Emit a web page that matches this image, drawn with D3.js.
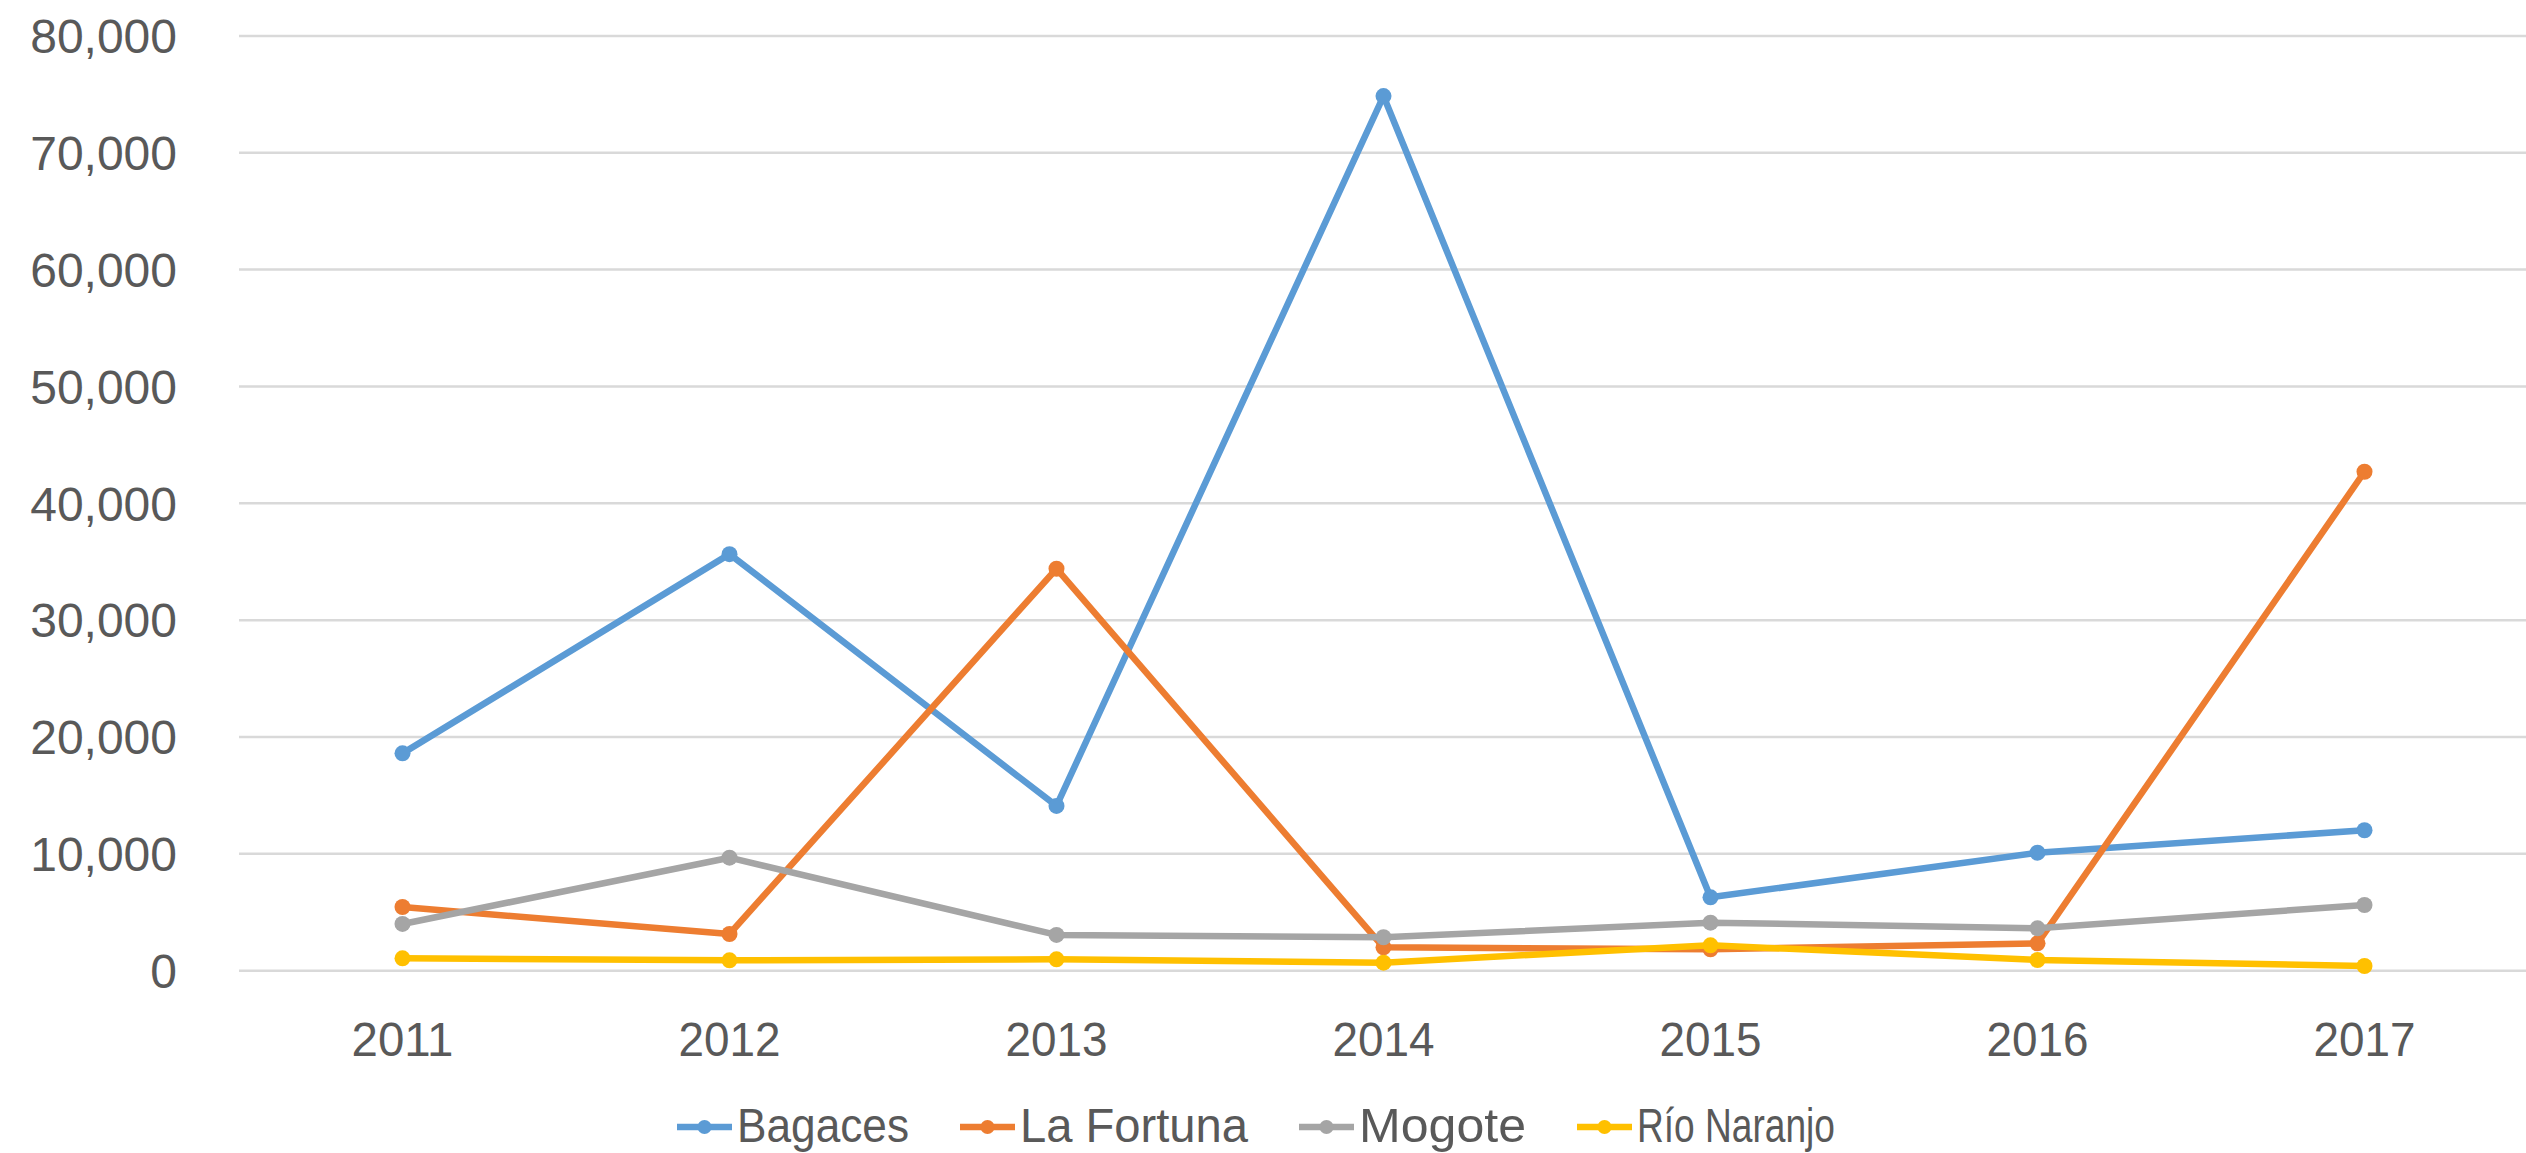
<!DOCTYPE html>
<html>
<head>
<meta charset="utf-8">
<script src="https://cdn.jsdelivr.net/npm/d3@7"></script>
<style>
  body { margin: 0; background: #fff; }
  text { fill: #595959; font-family: "Liberation Sans", Arial, sans-serif; }
</style>
</head>
<body>
<svg id="chart" width="2526" height="1153"></svg>
<script>
// data
var years = ["2011", "2012", "2013", "2014", "2015", "2016", "2017"];
var seriesNames = ["Bagaces", "La Fortuna", "Mogote", "Río Naranjo"];
var bagaces    = [18600, 35650, 14100, 74850, 6280, 10100, 12020];
var laFortuna  = [5450, 3140, 34400, 2000, 1830, 2340, 42700];
var mogote     = [4000, 9670, 3060, 2860, 4110, 3630, 5620];
var rioNaranjo = [1060, 890, 975, 690, 2170, 915, 400];
var yTicks = [0, 10000, 20000, 30000, 40000, 50000, 60000, 70000, 80000];

var colors = ["#5B9BD5", "#ED7D31", "#A5A5A5", "#FFC000"];
var allValues = [bagaces, laFortuna, mogote, rioNaranjo];

var svg = d3.select('#chart');

var x = d3.scaleBand().domain(years).range([239, 2528]);
var y = d3.scaleLinear().domain([0, 80000]).range([970.7, 35.9]);

function cx(d) { return x(d) + x.bandwidth() / 2; }

// gridlines
svg.append('g').selectAll('line')
    .data(yTicks)
    .enter().append('line')
    .attr('x1', 239).attr('x2', 2526)
    .attr('y1', function(d) { return y(d); })
    .attr('y2', function(d) { return y(d); })
    .attr('stroke', '#D9D9D9')
    .attr('stroke-width', 2.5);

// y axis labels
var yAxis = d3.axisLeft(y).tickValues(yTicks).tickFormat(d3.format(',')).tickSize(0).tickPadding(0);
var yg = svg.append('g').attr('transform', 'translate(177,0)').call(yAxis);
yg.select('.domain').remove();
yg.selectAll('text')
    .attr('font-size', 48)
    .attr('dy', '0.35em')
    .style('fill', '#595959')
    .style('font-family', '"Liberation Sans", Arial, sans-serif');

// x axis labels
var xAxis = d3.axisBottom(x).tickSize(0).tickPadding(0);
var xg = svg.append('g').attr('transform', 'translate(0,1056)').call(xAxis);
xg.select('.domain').remove();
xg.selectAll('text')
    .attr('font-size', 48)
    .attr('dy', 0)
    .attr('y', 0)
    .attr('textLength', 102)
    .attr('lengthAdjust', 'spacingAndGlyphs')
    .style('fill', '#595959')
    .style('font-family', '"Liberation Sans", Arial, sans-serif');

var line = d3.line()
    .x(function(d, i) { return cx(years[i]); })
    .y(function(d) { return y(d); });

allValues.forEach(function(vals, k) {
    var g = svg.append('g').attr('class', 'series');
    g.append('path')
        .attr('d', line(vals))
        .attr('fill', 'none')
        .attr('stroke', colors[k])
        .attr('stroke-width', 6.5)
        .attr('stroke-linejoin', 'round');
    g.selectAll('circle')
        .data(vals)
        .enter().append('circle')
        .attr('cx', function(d, i) { return cx(years[i]); })
        .attr('cy', function(d) { return y(d); })
        .attr('r', 8)
        .attr('fill', colors[k]);
});

// legend
var legend = svg.append('g').attr('class', 'legend');
var legendWidths = [172, 228, 167, 198];
var lx = 677;
seriesNames.forEach(function(name, k) {
    var item = legend.append('g').attr('transform', 'translate(' + lx + ',1127)');
    item.append('line')
        .attr('x1', 0).attr('x2', 55)
        .attr('y1', 0).attr('y2', 0)
        .attr('stroke', colors[k])
        .attr('stroke-width', 6.5);
    item.append('circle')
        .attr('cx', 27.5).attr('cy', 0).attr('r', 7)
        .attr('fill', colors[k]);
    item.append('text')
        .attr('x', 60)
        .attr('y', 15)
        .attr('font-size', 48)
        .attr('textLength', legendWidths[k])
        .attr('lengthAdjust', 'spacingAndGlyphs')
        .text(name);
    lx += 60 + legendWidths[k] + 51;
});
</script>
</body>
</html>
